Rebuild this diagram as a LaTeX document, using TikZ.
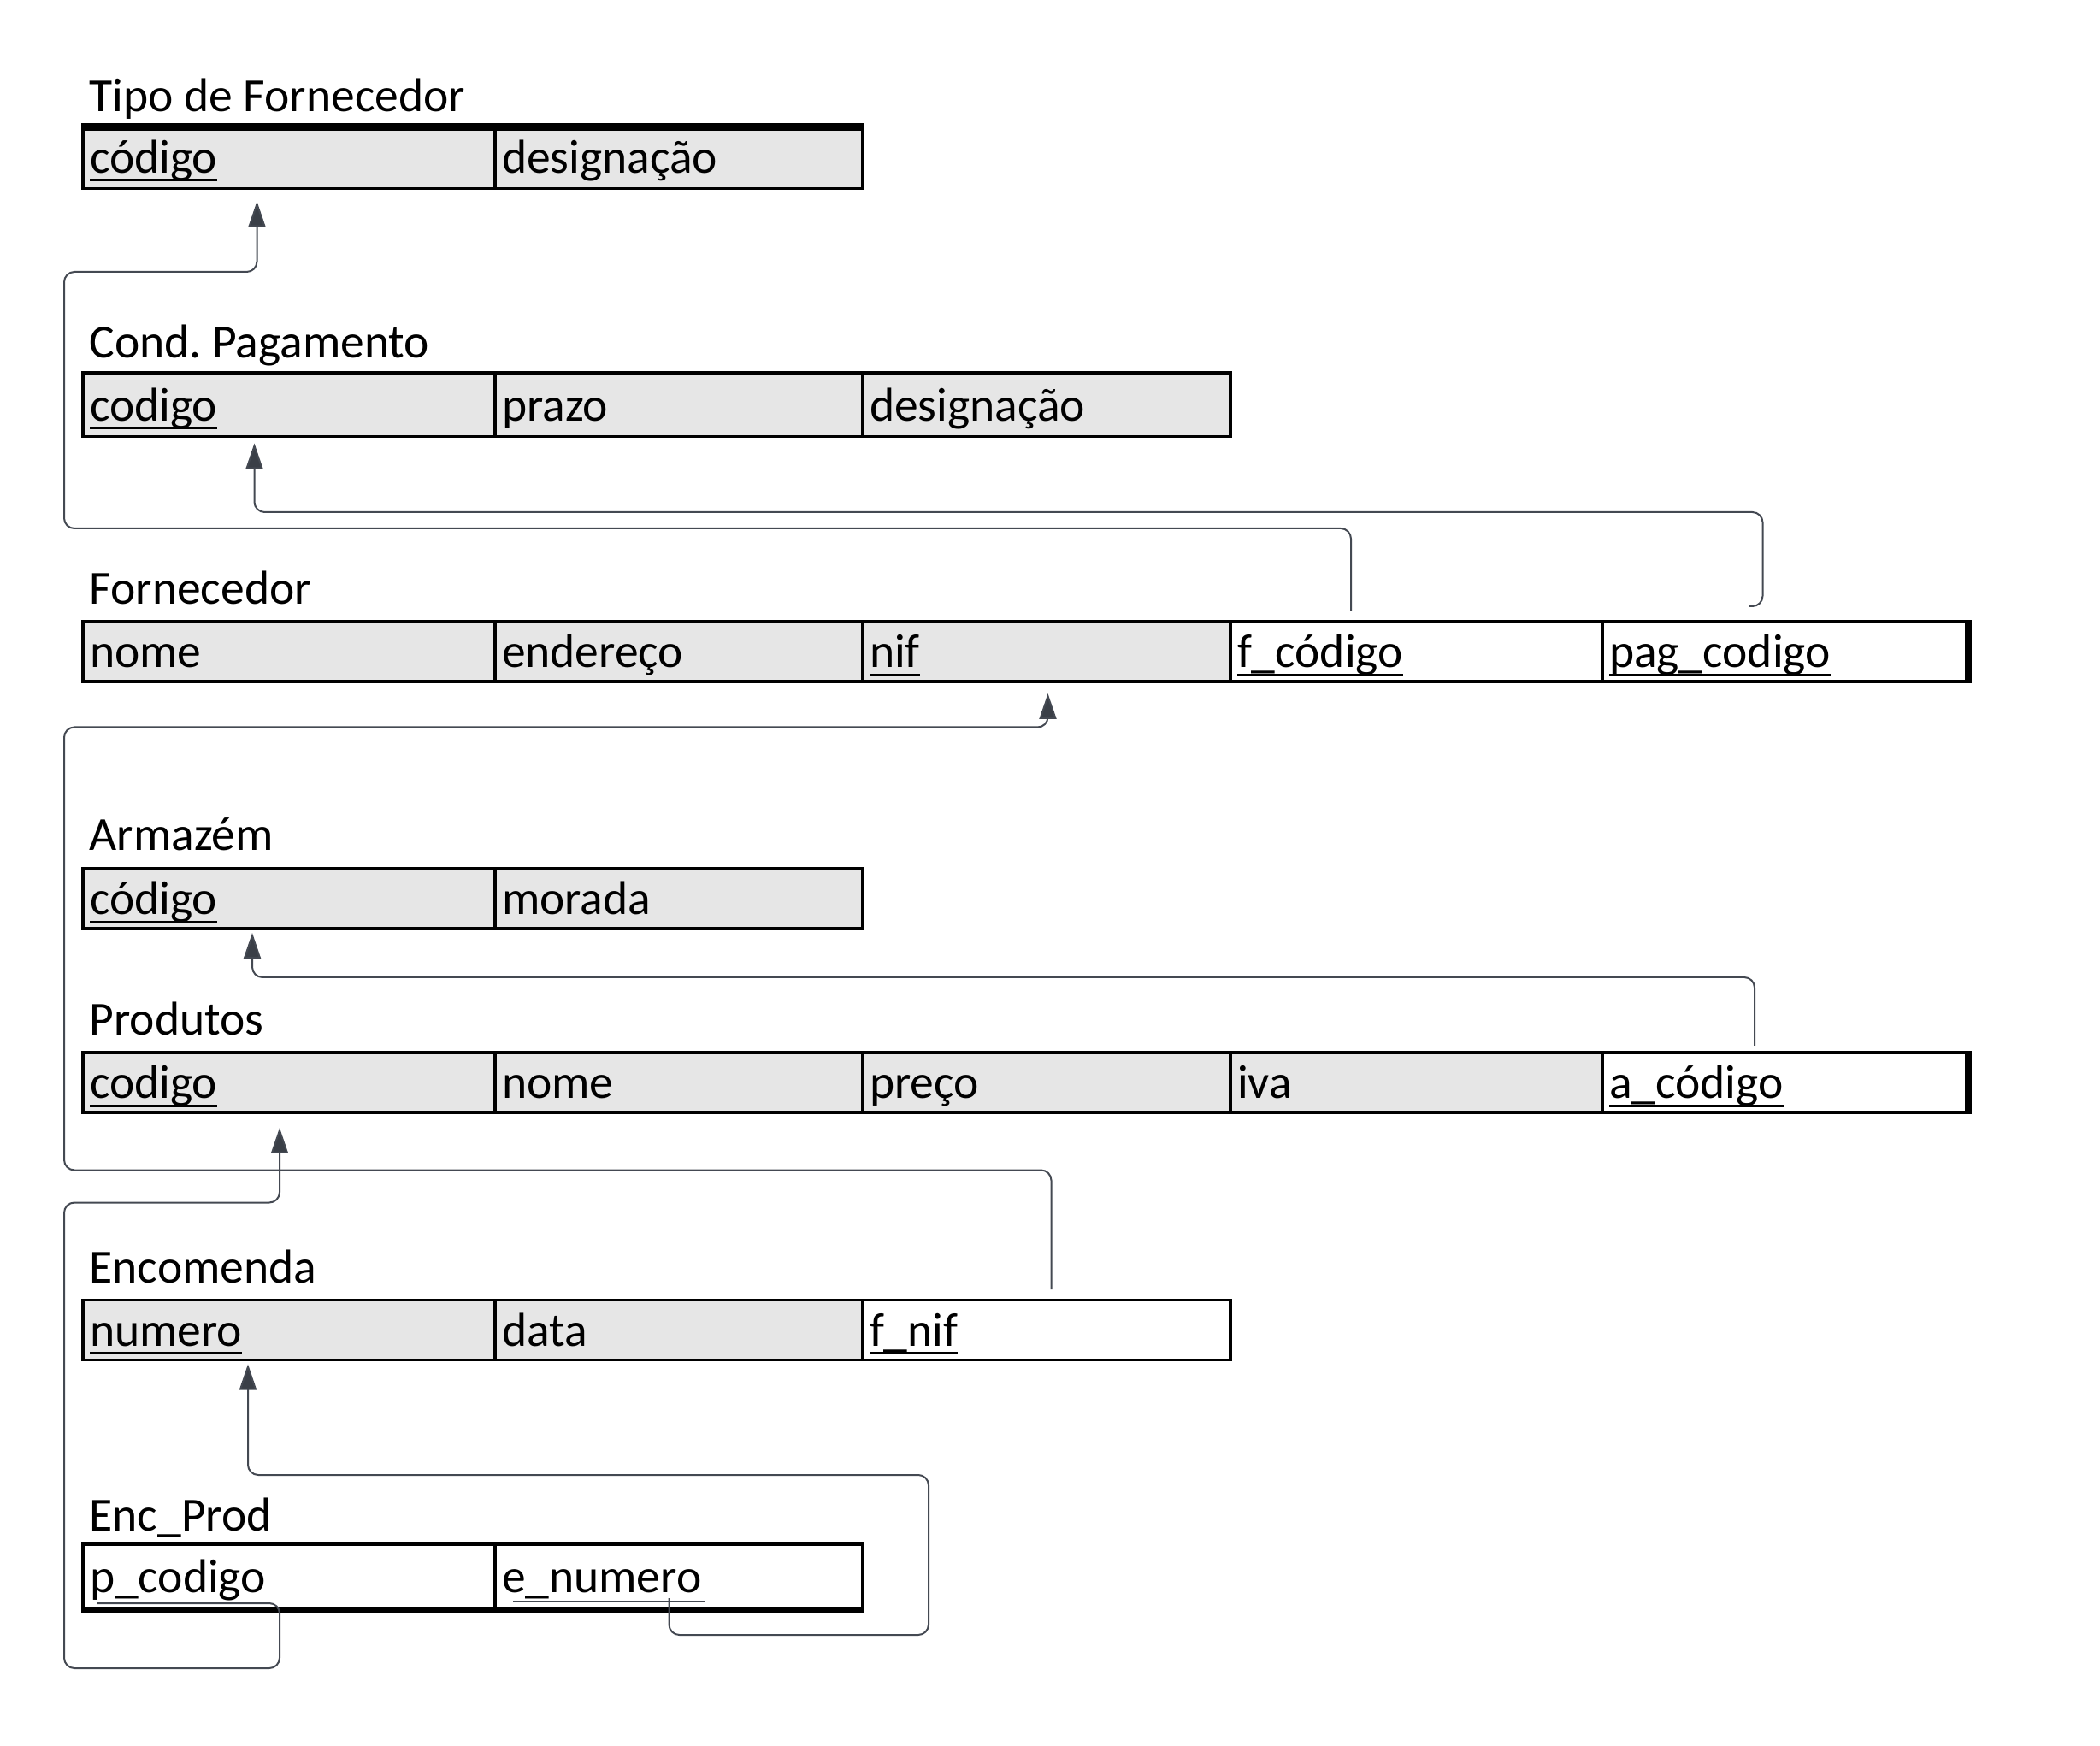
\documentclass[tikz,border=0pt]{standalone}
\usepackage{fontspec}
\setmainfont{Carlito}
\usetikzlibrary{arrows.meta,positioning}
\definecolor{cellgray}{RGB}{230,230,230}
\definecolor{linkgray}{RGB}{68,73,82}
\definecolor{tipgray}{RGB}{58,63,71}
\newcommand{\cellfont}{\fontsize{15.8pt}{18pt}\selectfont}
\newcommand{\keyattr}[1]{\setbox0\hbox{#1}\rlap{\rule[-0.175em]{\wd0}{0.055em}}\box0}
\tikzset{cell/.style={draw, line width=0.035cm, fill=cellgray, outer sep=0pt,
  inner xsep=0.08cm, inner ysep=0pt, text width=#1, minimum height=0.70cm,
  align=left, text height=0.47cm, text depth=0.09cm, font=\cellfont}}
\tikzstyle{tall}=[minimum height=0.745cm]
\tikzstyle{fkcell}=[fill=white]
\tikzstyle{tbltitle}=[anchor=base west, inner sep=0pt, font=\cellfont]
\tikzstyle{fk}=[draw=linkgray, line width=0.02cm, rounded corners=0.12cm,
  -{Triangle[length=0.3cm,width=0.2cm,fill=tipgray]}]
\tikzstyle{thickedge}=[line width=0.085cm]
\begin{document}
\begin{tikzpicture}
    \useasboundingbox (0,0) rectangle (24.56,-20.42);
    % Tipo de Fornecedor
    \node [tbltitle] (tftitle) at (1.04,-1.31) {Tipo de Fornecedor};
    \node [cell=4.66cm, tall, anchor=north west] (tfcod) at (0.97,-1.46) {\keyattr{código}};
    \node [cell=4.14cm, tall, right of=tfcod, node distance=4.56cm] (tfdes) {designação};
    \draw [thickedge] ([xshift=-0.0175cm,yshift=-0.03cm]tfcod.north west) -- ([xshift=0.0175cm,yshift=-0.03cm]tfdes.north east);
    % Cond. Pagamento
    \node [tbltitle] (cptitle) at (1.04,-4.19) {Cond.\ Pagamento};
    \node [cell=4.66cm, tall, anchor=north west] (cpcod) at (0.97,-4.36) {\keyattr{codigo}};
    \node [cell=4.14cm, tall, right of=cpcod, node distance=4.56cm] (cpprazo) {prazo};
    \node [cell=4.14cm, tall, right of=cpprazo, node distance=4.30cm] (cpdes) {designação};
    % Fornecedor
    \node [tbltitle] (ftitle) at (1.04,-7.07) {Fornecedor};
    \node [cell=4.66cm, anchor=north west] (fnome) at (0.97,-7.27) {nome};
    \node [cell=4.14cm, right of=fnome, node distance=4.56cm] (fend) {endereço};
    \node [cell=4.14cm, right of=fend, node distance=4.30cm] (fnif) {\keyattr{nif}};
    \node [cell=4.19cm, fkcell, right of=fnif, node distance=4.325cm] (ffcod) {\keyattr{f\_código}};
    \node [cell=4.10cm, fkcell, right of=ffcod, node distance=4.305cm] (fpag) {\keyattr{pag\_codigo}};
    \draw [thickedge] ([xshift=0.02cm,yshift=0.0175cm]fpag.north east) -- ([xshift=0.02cm,yshift=-0.0175cm]fpag.south east);
    % Armazém
    \node [tbltitle] (atitle) at (1.04,-9.95) {Armazém};
    \node [cell=4.66cm, anchor=north west] (acod) at (0.97,-10.16) {\keyattr{código}};
    \node [cell=4.14cm, right of=acod, node distance=4.56cm] (amor) {morada};
    % Produtos
    \node [tbltitle] (ptitle) at (1.04,-12.10) {Produtos};
    \node [cell=4.66cm, anchor=north west] (pcod) at (0.97,-12.31) {\keyattr{codigo}};
    \node [cell=4.14cm, right of=pcod, node distance=4.56cm] (pnome) {nome};
    \node [cell=4.14cm, right of=pnome, node distance=4.30cm] (ppreco) {preço};
    \node [cell=4.19cm, right of=ppreco, node distance=4.325cm] (piva) {iva};
    \node [cell=4.10cm, fkcell, right of=piva, node distance=4.305cm] (pacod) {\keyattr{a\_código}};
    \draw [thickedge] ([xshift=0.02cm,yshift=0.0175cm]pacod.north east) -- ([xshift=0.02cm,yshift=-0.0175cm]pacod.south east);
    % Encomenda
    \node [tbltitle] (etitle) at (1.04,-15.00) {Encomenda};
    \node [cell=4.66cm, anchor=north west] (enum) at (0.97,-15.205) {\keyattr{numero}};
    \node [cell=4.14cm, right of=enum, node distance=4.56cm] (edata) {data};
    \node [cell=4.14cm, fkcell, right of=edata, node distance=4.30cm] (efnif) {\keyattr{f\_nif}};
    % Enc_Prod
    \node [tbltitle] (eptitle) at (1.04,-17.90) {Enc\_Prod};
    \node [cell=4.66cm, tall, fkcell, anchor=north west] (eppcod) at (0.97,-18.06) {p\_codigo};
    \node [cell=4.14cm, tall, fkcell, right of=eppcod, node distance=4.56cm] (epenum) {e\_numero};
    \draw [thickedge] ([xshift=-0.0175cm,yshift=-0.025cm]eppcod.south west) -- ([xshift=0.0175cm,yshift=-0.025cm]epenum.south east);
    \draw [draw=linkgray, line width=0.02cm] (6.00,-18.73) -- (8.25,-18.73);
    % foreign keys
    \coordinate (fcodstub) at (15.80,-7.14);
    \coordinate (pagstub) at (20.45,-7.09);
    \coordinate (fnifstub) at (12.295,-15.08);
    \coordinate (acodstub) at (20.52,-12.23);
    \coordinate (pcodstub) at (1.13,-18.75);
    \coordinate (enumstub) at (7.825,-18.69);
    \draw [fk, shorten >=0.15cm] (fcodstub) |- (0.75,-6.18) |- (3.005,-3.18) -- (3.005,0 |- tfcod.south);
    \draw [fk, shorten >=0.08cm] (pagstub) -| (20.615,-5.99) -| (2.975,0 |- cpcod.south);
    \draw [fk, shorten >=0.14cm] (fnifstub) |- (0.75,-13.685) |- (12.255,-8.505) -- (12.255,0 |- fnif.south);
    \draw [fk, shorten >=0.05cm] (acodstub) |- (2.95,-11.43) -- (2.95,0 |- acod.south);
    \draw [fk, shorten >=0.18cm] (pcodstub) -| (3.27,-19.51) -| (0.75,-14.065) -| (3.27,0 |- pcod.south);
    \draw [fk, shorten >=0.05cm] (enumstub) |- (10.86,-19.12) |- (2.90,-17.25) -- (2.90,0 |- enum.south);
\end{tikzpicture}
\end{document}
